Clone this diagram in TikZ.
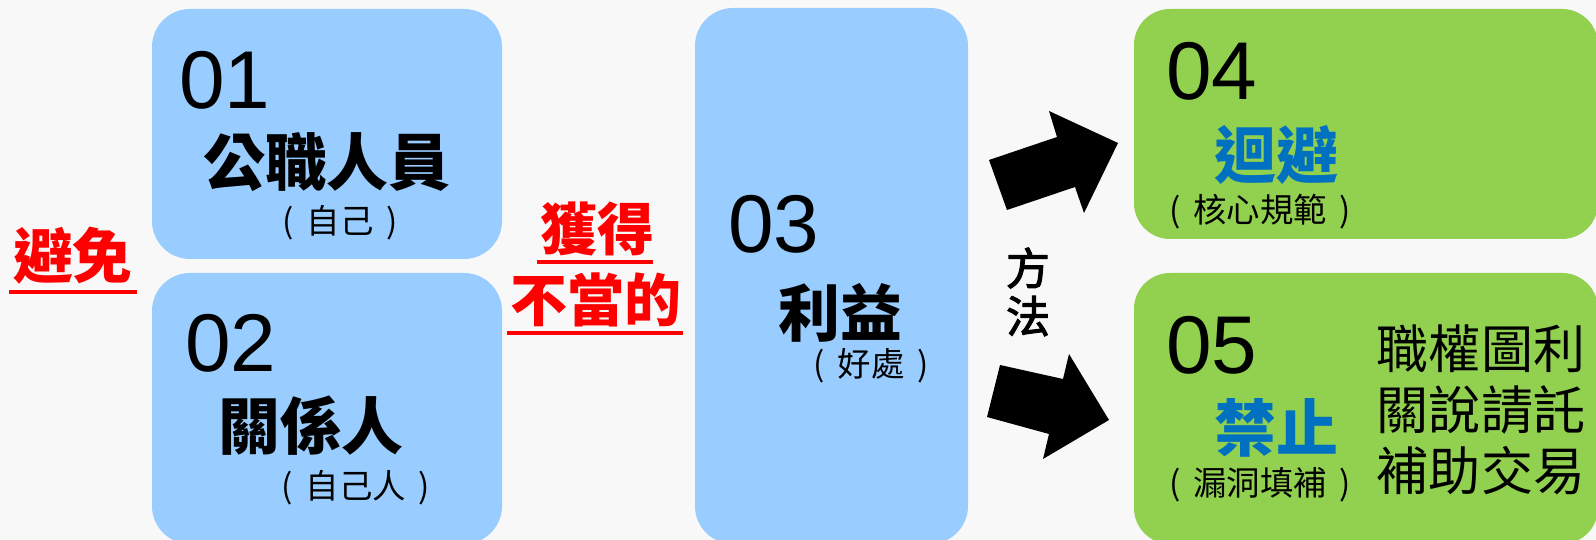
\documentclass[tikz,border=0pt]{standalone}
\usepackage{fontspec}
\setmainfont{Liberation Sans}
\newfontfamily\cjk{Noto Sans CJK TC}
\newfontfamily\cjkmed{Noto Sans CJK TC}[FakeBold=2.5]
\definecolor{bgc}{RGB}{248,248,248}
\definecolor{boxblue}{RGB}{153,204,255}
\definecolor{boxgreen}{RGB}{146,208,80}
\definecolor{txtblue}{RGB}{0,112,192}
\definecolor{txtred}{RGB}{255,0,0}
\newcommand{\subtxt}[1]{(\hspace{0.38em}#1\hspace{0.38em})}
\tikzset{
  bluebox/.style={fill=boxblue, rounded corners=0.38cm},
  greenbox/.style={fill=boxgreen, rounded corners=0.36cm},
  num/.style={inner sep=0pt, font=\fontsize{23.3}{26}\selectfont},
  title/.style={inner sep=0pt, font=\cjk\bfseries\fontsize{17.6}{20}\selectfont},
  sub/.style={inner sep=0pt, font=\cjk\fontsize{9.5}{11}\selectfont},
  redlabel/.style={inner sep=0pt, text=txtred, font=\cjk\bfseries\fontsize{16.2}{18}\selectfont},
  method/.style={inner sep=0pt, font=\cjkmed\fontsize{12.5}{14}\selectfont},
  list/.style={inner sep=0pt, font=\cjk\fontsize{14.8}{17}\selectfont},
  uline/.style={draw=txtred, line width=1.1pt},
  bigarrow/.style={fill=black},
}
\begin{document}
\begin{tikzpicture}[x=0.01cm, y=-0.01cm]
\fill[bgc] (0,0) rectangle (1596,540);
\useasboundingbox (0,0) rectangle (1596,540);

% boxes
\path[bluebox] (152,9) rectangle (502,259);
\path[bluebox] (152,273) rectangle (502,544);
\path[bluebox] (695,8) rectangle (968,544);
\path[greenbox] (1134,9) rectangle (1598,239);
\path[greenbox] (1134,273) rectangle (1598,544);

% box 01
\node[num] (n01) at (225,80) {01};
\node[title] (t01) at (327,162) {公職人員};
\node[sub] (s01) at (340,223) {\subtxt{自己}};

% box 02
\node[num] (n02) at (231,343) {02};
\node[title] (t02) at (311,426) {關係人};
\node[sub] (s02) at (356,488) {\subtxt{自己人}};

% left label
\node[redlabel, font=\cjk\bfseries\fontsize{17}{19}\selectfont] (avoid) at (73,256) {避免};
\draw[uline] (9,292) -- (137,292);

% middle red label
\node[redlabel] (get) at (597,229) {獲得};
\draw[uline] (537,262) -- (653,262);
\node[redlabel] (improper) at (596,300) {不當的};
\draw[uline] (507,333) -- (683,333);

% box 03
\node[num] (n03) at (774,224) {03};
\node[title] (t03) at (840,313) {利益};
\node[sub] (s03) at (871,366) {\subtxt{好處}};

% method
\node[method] (m1) at (1028,268) {方};
\node[method] (m2) at (1028,316) {法};

% block arrows
\fill[bigarrow] (989,160) -- (1057,137) -- (1049,111) -- (1118,143) -- (1084,213) -- (1075,187) -- (1007,210) -- cycle;
\fill[bigarrow] (1000,365) -- (1063,379) -- (1069,354) -- (1109,420) -- (1043,459) -- (1049,434) -- (987,417) -- cycle;

% box 04
\node[num] (n04) at (1212,71) {04};
\node[title, text=txtblue] (t04) at (1276,155) {迴避};
\node[sub] (s04) at (1260,212) {\subtxt{核心規範}};

% box 05
\node[num] (n05) at (1212,345) {05};
\node[title, text=txtblue] (t05) at (1276,428) {禁止};
\node[sub] (s05) at (1260,485) {\subtxt{漏洞填補}};
\node[list] (l1) at (1481,349) {職權圖利};
\node[list] (l2) at (1481,410) {關說請託};
\node[list] (l3) at (1481,471) {補助交易};
\end{tikzpicture}
\end{document}
